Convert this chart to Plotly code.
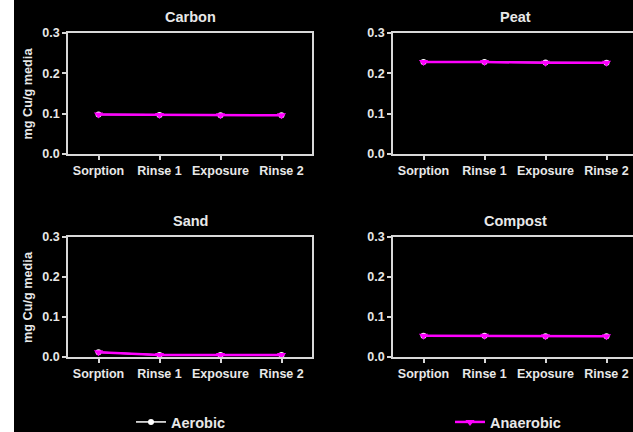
import plotly.graph_objects as go

categories = ["Sorption", "Rinse 1", "Exposure", "Rinse 2"]
panels = ["Carbon", "Peat", "Sand", "Compost"]
aerobic = {
    "Carbon": [0.098, 0.097, 0.096, 0.096],
    "Peat": [0.228, 0.228, 0.227, 0.226],
    "Sand": [0.012, 0.005, 0.005, 0.005],
    "Compost": [0.053, 0.053, 0.052, 0.052],
}
anaerobic = {
    "Carbon": [0.098, 0.097, 0.096, 0.096],
    "Peat": [0.228, 0.228, 0.226, 0.226],
    "Sand": [0.012, 0.005, 0.005, 0.005],
    "Compost": [0.053, 0.053, 0.052, 0.052],
}
y_ticks = [0.0, 0.1, 0.2, 0.3]
y_tick_labels = ["0.0", "0.1", "0.2", "0.3"]

W, H = 633, 432
FONT = "Liberation Sans, Arial, sans-serif"
AXC = "#d8d8d8"
TXT = "#e8e8e8"

# panel pixel boxes: left, right, top, bottom
boxes = {
    "Carbon": (68, 312, 33, 154),
    "Peat": (393, 633, 33, 154),
    "Sand": (68, 312, 237, 357),
    "Compost": (393, 633, 237, 357),
}
step = 61.0

fig = go.Figure()
layout = dict(
    width=W, height=H, margin=dict(l=0, r=0, t=0, b=0, autoexpand=False),
    paper_bgcolor="black", plot_bgcolor="black",
    font=dict(family=FONT, color=TXT, size=12, weight="bold"),
    showlegend=True,
)
annotations = []
for i, p in enumerate(panels):
    n = "" if i == 0 else str(i + 1)
    L, R, T, B = boxes[p]
    xr = [-0.5, -0.5 + (R - L) / step]
    clipped = p in ("Peat", "Compost")
    layout["xaxis" + n] = dict(
        domain=[L / W, R / W], anchor="y" + n, range=xr,
        showline=True, linecolor=AXC, linewidth=1.5, mirror=True,
        ticks="outside", ticklen=4, tickcolor=AXC, tickwidth=1.5,
        showgrid=False, zeroline=False,
        tickmode="array", tickvals=list(range(4)), ticktext=categories,
        tickfont=dict(size=12.5, color=TXT, family=FONT, weight="bold"),
        fixedrange=True,
    )
    layout["yaxis" + n] = dict(
        domain=[1 - B / H, 1 - T / H], anchor="x" + n, range=[0, 0.3],
        showline=True, linecolor=AXC, linewidth=1.5, mirror=not clipped,
        ticks="outside", ticklen=4, tickcolor=AXC, tickwidth=1.5,
        showgrid=False, zeroline=False,
        tickmode="array", tickvals=y_ticks, ticktext=y_tick_labels,
        tickfont=dict(size=12.5, color=TXT, family=FONT, weight="bold"),
        fixedrange=True,
    )
    fig.add_trace(go.Scatter(
        x=list(range(4)), y=aerobic[p], mode="lines+markers", name="Aerobic",
        line=dict(color="white", width=1.5), marker=dict(symbol="circle", size=6, color="white"),
        xaxis="x" + n, yaxis="y" + n, showlegend=(i == 0), legend="legend", cliponaxis=False,
    ))
    fig.add_trace(go.Scatter(
        x=list(range(4)), y=anaerobic[p], mode="lines+markers", name="Anaerobic",
        line=dict(color="#ff00ff", width=2.5), marker=dict(symbol="triangle-down", size=8, color="#ff00ff"),
        xaxis="x" + n, yaxis="y" + n, showlegend=(i == 0), legend="legend2", cliponaxis=False,
    ))
    annotations.append(dict(
        text=p, x=((L + L + 244) / 2) / W, y=1 - (T - 16) / H,
        xref="paper", yref="paper", showarrow=False, xanchor="center", yanchor="middle",
        font=dict(size=14.5, color=TXT, family=FONT, weight="bold"),
    ))
    if not clipped:
        annotations.append(dict(
            text="mg Cu/g media", x=28 / W, y=1 - ((T + B) / 2) / H, textangle=-90,
            xref="paper", yref="paper", showarrow=False, xanchor="center", yanchor="middle",
            font=dict(size=12.7, color=TXT, family=FONT, weight="bold"),
        ))

layout["annotations"] = annotations
layout["shapes"] = [dict(type="rect", xref="paper", yref="paper", x0=0, x1=14 / W, y0=0, y1=1,
                         fillcolor="white", line=dict(width=0), layer="below")]
leg_common = dict(orientation="h", yanchor="middle", xanchor="left", bgcolor="rgba(0,0,0,0)",
                  font=dict(size=14.5, color=TXT, family=FONT, weight="bold"))
layout["legend"] = dict(x=131 / W, y=1 - 422 / H, **leg_common)
layout["legend2"] = dict(x=450 / W, y=1 - 422 / H, **leg_common)
fig.update_layout(**layout)
fig.write_html("out.html", config={"displayModeBar": False},
               post_script="document.body.style.margin='0';document.body.style.padding='0';")
